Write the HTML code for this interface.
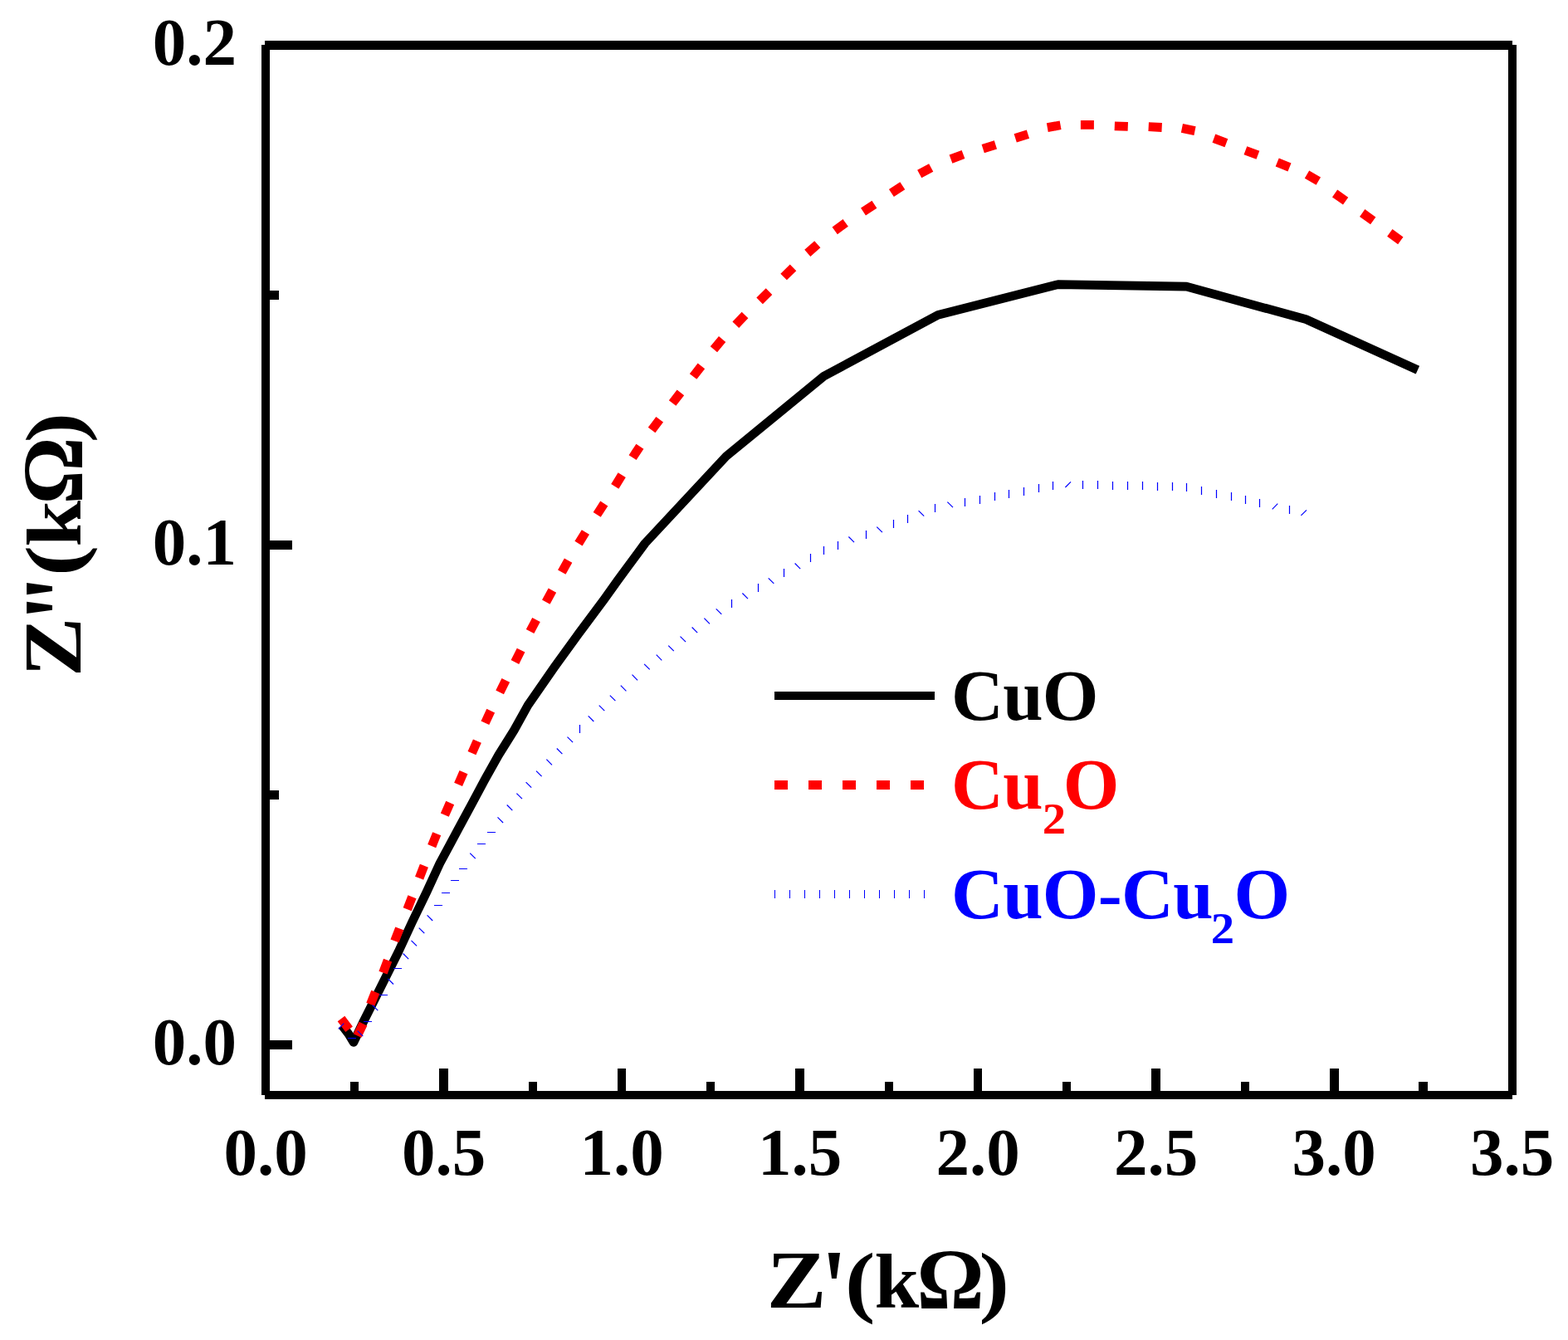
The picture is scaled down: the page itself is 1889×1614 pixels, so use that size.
<!DOCTYPE html>
<html><head><meta charset="utf-8"><title>Nyquist plot</title>
<style>
html,body{margin:0;padding:0;background:#fff;width:1889px;height:1614px;overflow:hidden}
svg{display:block}
text{font-family:"Liberation Serif","Times New Roman",serif;font-weight:bold}
</style></head>
<body>
<svg width="1889" height="1614" viewBox="0 0 1889 1614">
<rect width="1889" height="1614" fill="#fff"/>
<!-- frame -->
<g fill="#000" shape-rendering="crispEdges">
<rect x="319" y="49" width="1503" height="11"/>
<rect x="319" y="1314" width="1503" height="10"/>
<rect x="315" y="54" width="10" height="1265"/>
<rect x="1817" y="54" width="10" height="1265"/>
<rect x="325" y="1253" width="27" height="11"/>
<rect x="325" y="651" width="27" height="11"/>
<rect x="325" y="952" width="11" height="11"/>
<rect x="325" y="350" width="11" height="11"/>
<rect x="529" y="1287" width="11" height="27"/>
<rect x="744" y="1287" width="10" height="27"/>
<rect x="958" y="1287" width="11" height="27"/>
<rect x="1173" y="1287" width="10" height="27"/>
<rect x="1387" y="1287" width="11" height="27"/>
<rect x="1602" y="1287" width="11" height="27"/>
<rect x="422" y="1303" width="10" height="11"/>
<rect x="637" y="1303" width="10" height="11"/>
<rect x="851" y="1303" width="10" height="11"/>
<rect x="1066" y="1303" width="10" height="11"/>
<rect x="1280" y="1303" width="10" height="11"/>
<rect x="1495" y="1303" width="10" height="11"/>
<rect x="1709" y="1303" width="11" height="11"/>
</g>
<!-- y tick labels -->
<g font-size="81" text-anchor="end" fill="#000">
<text x="285" y="1281.8">0.0</text>
<text x="285" y="679.5">0.1</text>
<text x="285" y="77.5">0.2</text>
</g>
<!-- x tick labels -->
<g font-size="81" text-anchor="middle" fill="#000">
<text x="320" y="1415">0.0</text>
<text x="534.5" y="1415">0.5</text>
<text x="749" y="1415">1.0</text>
<text x="963.5" y="1415">1.5</text>
<text x="1178" y="1415">2.0</text>
<text x="1392.5" y="1415">2.5</text>
<text x="1607" y="1415">3.0</text>
<text x="1821.5" y="1415">3.5</text>
</g>
<!-- axis titles -->
<text fill="#000"><tspan x="923.75" y="1574.6" font-size="98.51" textLength="71.82" lengthAdjust="spacingAndGlyphs">Z</tspan><tspan x="989.31" y="1595.15" font-size="131.57" textLength="31.32" lengthAdjust="spacingAndGlyphs">'</tspan><tspan x="1018.11" y="1574.73" font-size="94.74" textLength="36.3" lengthAdjust="spacingAndGlyphs">(</tspan><tspan x="1053.5" y="1575.1" font-size="93.97" textLength="53.64" lengthAdjust="spacingAndGlyphs">k</tspan><tspan x="1104.4" y="1575.8" font-size="104.36" textLength="81.1" lengthAdjust="spacingAndGlyphs">Ω</tspan><tspan x="1179.47" y="1574.73" font-size="94.74" textLength="36.43" lengthAdjust="spacingAndGlyphs">)</tspan></text>
<text fill="#000" transform="rotate(-90)"><tspan x="-815.35" y="96.9" font-size="99.42" textLength="71.82" lengthAdjust="spacingAndGlyphs">Z</tspan><tspan x="-747.59" y="117.53" font-size="131.99" textLength="31.32" lengthAdjust="spacingAndGlyphs">'</tspan><tspan x="-724.91" y="117.53" font-size="131.99" textLength="31.76" lengthAdjust="spacingAndGlyphs">'</tspan><tspan x="-694.11" y="96.76" font-size="94.62" textLength="37.21" lengthAdjust="spacingAndGlyphs">(</tspan><tspan x="-658.49" y="96.8" font-size="93.39" textLength="55.64" lengthAdjust="spacingAndGlyphs">k</tspan><tspan x="-607.6" y="99" font-size="103.91" textLength="81.1" lengthAdjust="spacingAndGlyphs">Ω</tspan><tspan x="-533.21" y="96.83" font-size="94.74" textLength="36.3" lengthAdjust="spacingAndGlyphs">)</tspan></text>
<!-- CURVES -->
<polyline fill="none" stroke="#000" stroke-width="10.6" stroke-linejoin="round" points="412,1235 420,1245.5 426,1255.4 437.7,1230.9 451.4,1203.6 465,1176.4 480,1146.4 496.4,1110.9 514.1,1074.1 529.8,1040 552.1,998.6 568.2,968.8 584.1,939.1 600.7,909.4 619.3,879.6 636,849.5 667.9,803.5 697.5,762.7 727.9,721.8 744.3,698.8 777,654.5 874.9,549.5 992.5,453.2 1130,379.3 1274.7,342.6 1429.4,345.1 1573.4,384.7 1707.9,445.7"/>
<path fill="none" stroke="#f00" stroke-width="10.8" d="M411 1227L420.6 1239.8M430.5 1247.5L437.5 1233.1M446.3 1209.7L452.3 1194.9M461.5 1171.6L467.1 1156.6M475.5 1133.4L481.3 1118.4M490.7 1095.2L496.5 1080.2M505.1 1057.7L510.9 1042.7M520.2 1019.1L526.2 1004.3M535.8 981.6L542.2 967M552.1 944.8L558.5 930.2M568.5 907.2L574.9 892.6M584.4 870.7L591.2 856.1M602.1 833.8L609.3 819.4M620.4 797.5L627.6 783.1M638.6 760.6L646 746.4M657.8 725.1L665.4 711.1M676.8 689.1L684.6 675.1M697 654.6L705.4 641M719.2 619.9L727.8 606.5M740.8 585.8L749.2 572.2M762.1 551.1L770.9 537.7M785.1 518.1L794.7 505.3M810.1 485.5L819.9 472.9M835.1 453.5L844.9 440.9M859.9 420.7L870.1 408.5M886.3 391.2L897.5 379.6M915.1 362.3L926.5 351.1M944.1 333.5L955.5 322.3M972.8 304.9L984.8 294.3M1005.7 277.8L1018.7 268.4M1040 255L1053.4 246.2M1073.9 232.6L1087.3 223.8M1107.7 209.6L1121.7 202M1145.5 191.6L1160.5 186M1184.2 179.2L1199.4 174.4M1223.2 166.4L1238.4 161.6M1261.8 153.6L1277.6 150.8M1301.9 150.4L1317.9 150.4M1342.8 151.8L1358.8 152.4M1383.7 152.7L1399.7 153.5M1423.9 154.4L1439.5 157.6M1462.4 166.6L1477.4 172.2M1500.4 181.2L1515.4 186.8M1538.7 195.4L1553.5 201.4M1574.5 210.2L1588.3 218.2M1608.1 233L1621.1 242.2M1641.2 256.5L1654.2 265.9M1674.3 280.4L1687.3 289.8"/>
<path fill="none" stroke="#00f" stroke-width="1.2" d="M414.3 1232.7L407.7 1239.3M419 1250.5h10M430.7 1241.6L437.3 1248.2M438 1230.5h10M448.7 1210.6L455.3 1217.2M457 1198.5h10M467.4 1178.9L474 1185.5M474 1166.5h10M485.6 1148.5L492.2 1155.1M495.5 1132.8L502.1 1139.4M504.7 1117.6L511.3 1124.2M514.6 1102.4L521.2 1109M523 1090.5h10M532 1075.5h10M543 1060.5h10M553 1046.5h10M566.2 1027.6L572.8 1034.2M575 1016.5h10M587 1002.5h10M599.5 984.4L606.1 991M610.7 969.5L617.3 976.1M622.4 955.6L629 962.2M633.6 942.1L640.2 948.7M646 928.6L652.6 935.2M658.4 914.7L665 921.3M670.8 901.5L677.4 908.1M683.5 887.6L690.1 894.2M698.5 873v10M708.7 862.4L715.3 869M721.7 849.6L728.3 856.2M734.8 837.6L741.4 844.2M747.8 825.7L754.4 832.3M761.5 812.7L768.1 819.3M776.1 799.8L782.7 806.4M790.7 788.7L797.3 795.3M805.2 777.6L811.8 784.2M819.5 766.6L826.1 773.2M833.6 755.5L840.2 762.1M848.4 744.7L855 751.3M862.7 733.3L869.3 739.9M881.5 722v10M894.4 714.5L901 721.1M913.5 703v10M925.7 696.3L932.3 702.9M944.5 685v10M957.6 678.5L964.2 685.1M976.5 667v10M992.5 658v10M1009.5 652v10M1022.4 646.5L1029 653.1M1043.5 639v10M1056.3 634.6L1062.9 641.2M1076.5 626v10M1093.5 620v10M1106.6 615.1L1113.2 621.7M1126.5 607v10M1141.4 604.6L1148 611.2M1162.5 600v10M1180.5 597v10M1198.5 593v10M1215.5 590v10M1233.5 587v10M1251.5 583v10M1268.5 580v10M1290 580.4L1283.4 587M1304.5 579v10M1322.5 579v10M1340.5 580v10M1358.5 580v10M1376.5 580v10M1394.5 581v10M1412.5 581v10M1429.5 582v10M1447.5 586v10M1465.5 590v10M1483.5 593v10M1500.5 597v10M1517.5 601v10M1539.3 606.7L1532.7 613.3M1553.5 609v10M1574 614.3L1567.4 620.9"/>
<!-- /CURVES -->
<!-- legend -->
<g>
<rect x="933" y="833" width="193" height="10" fill="#000" shape-rendering="crispEdges"/>
<line x1="933" y1="945.5" x2="1126" y2="945.5" stroke="#f00" stroke-width="11" stroke-dasharray="16 25" shape-rendering="crispEdges"/>
<line x1="933" y1="1077" x2="1126" y2="1077" stroke="#00f" stroke-width="10" stroke-dasharray="1 17" shape-rendering="crispEdges"/>
<text x="1146" y="867" font-size="87" letter-spacing="-0.7" fill="#000">CuO</text>
<text x="1146" y="973.7" font-size="87" letter-spacing="-0.7" fill="#f00">Cu<tspan font-size="52" dy="30" textLength="27.6" lengthAdjust="spacingAndGlyphs">2</tspan><tspan dx="-2.6" dy="-30">O</tspan></text>
<text x="1146" y="1106" font-size="87" letter-spacing="-0.7" fill="#00f">CuO-Cu<tspan font-size="52" dx="-2.2" dy="30" textLength="27.6" lengthAdjust="spacingAndGlyphs">2</tspan><tspan dx="0.2" dy="-30">O</tspan></text>
</g>
</svg>
</body></html>
